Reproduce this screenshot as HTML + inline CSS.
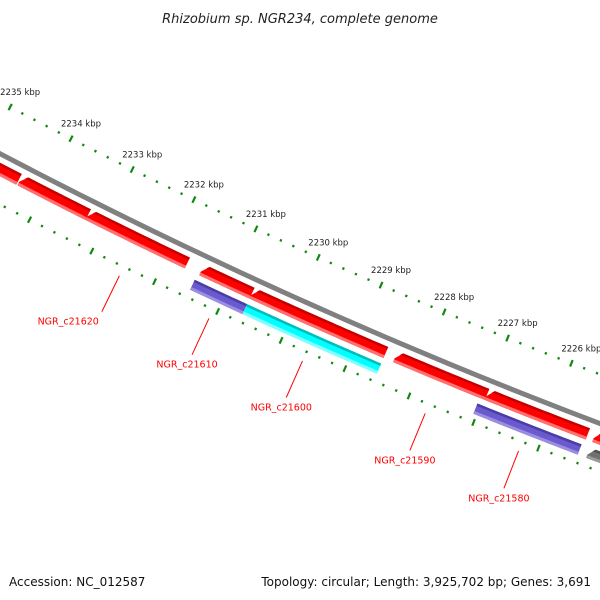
<!DOCTYPE html>
<html><head><meta charset="utf-8"><style>
html,body{margin:0;padding:0;background:#fff}
svg{display:block}
text{font-family:"DejaVu Sans","Liberation Sans",sans-serif}
</style></head><body>
<svg id="map" width="600" height="600" viewBox="0 0 600 600" xmlns="http://www.w3.org/2000/svg">
<rect width="600" height="600" fill="#fff"/>
<text x="300" y="23" text-anchor="middle" font-size="13" font-style="italic" fill="#222">Rhizobium sp. NGR234, complete genome</text>
<g id="ticks"></g>
<g id="backbone"></g>
<g id="genes"></g>
<g id="labels"></g>
<text x="9" y="586" font-size="12" fill="#111">Accession: NC_012587</text>
<text x="591" y="586" font-size="12" text-anchor="end" fill="#111">Topology: circular; Length: 3,925,702 bp; Genes: 3,691</text>
</svg>
<script>
// data (kbp)
const geneStarts = [2236.5, 2234.38, 2233.28, 2231.46, 2230.66, 2228.40, 2226.97, 2225.31, 2231.49, 2230.66, 2228.55, 2227.05, 2225.31];
const geneEnds   = [2234.40, 2233.28, 2231.69, 2230.66, 2228.55, 2226.97, 2225.41, 2224.0, 2230.66, 2228.55, 2227.05, 2225.44, 2224.0];
const geneRows   = [0,0,0,0,0,0,0,0,1,1,1,1,1];
const geneKinds  = ['red','red','red','red','red','red','red','red','purple','cyan','none','purple','grey'];
const labelNames = ['NGR_c21620','NGR_c21610','NGR_c21600','NGR_c21590','NGR_c21580'];
const labelKbp   = [2232.49, 2231.07, 2229.6, 2227.69, 2226.25];
const tickMin = 2223, tickMax = 2237;

const NS = 'http://www.w3.org/2000/svg';
const cx = 2511, cy = -4627, R = 5400;
function ang(kbp){ return 111.24 + (kbp - 2226) * 0.734; }
function pt(r, deg){ const t = deg * Math.PI / 180; return [cx + r * Math.cos(t), cy + r * Math.sin(t)]; }
function arcPts(r, a1, a2, n){ const p=[]; for(let i=0;i<=n;i++){ p.push(pt(r, a1 + (a2-a1)*i/n)); } return p; }
function poly(pts){ return pts.map(p=>p[0].toFixed(2)+','+p[1].toFixed(2)).join(' '); }
function mk(tag, attrs, parent){ const e=document.createElementNS(NS,tag); for(const k in attrs) e.setAttribute(k,attrs[k]); parent.appendChild(e); return e; }

// backbone
const bb = document.getElementById('backbone');
const bbl = mk('polyline', {points: poly(arcPts(R, ang(2237), ang(2223), 60)), fill:'none', stroke:'#808080', 'stroke-width':5}, bb);



// ticks
const tg = document.getElementById('ticks');
const rings = [5354, 5445];
for (let k = tickMin*5; k <= tickMax*5; k++) {
  const kbp = k / 5;
  const major = (k % 5 === 0);
  const a = ang(kbp);
  rings.forEach((rr, ri) => {
    const h = major ? 3.5 : 1.2;
    const p1 = pt(rr - h, a), p2 = pt(rr + h, a);
    const l = mk('line', {x1:p1[0], y1:p1[1], x2:p2[0], y2:p2[1], stroke:'#118811', 'stroke-width':2.2}, tg);
    
    
  });
  if (major) {
    const p = pt(5354, a);
    const t = mk('text', {x:p[0]+10, y:p[1]-12, 'text-anchor':'middle', 'font-size':8.5, fill:'#222'}, tg);
    t.textContent = kbp + ' kbp';
    
    
  }
}

// genes
const gg = document.getElementById('genes');
const colors = {
  red:['#ff0000','#c40000','#ff7070'],
  purple:['#6a5acd','#4a3da8','#9a8ee0'],
  cyan:['#00ffff','#00bcbc','#80ffff'],
  grey:['#707070','#505050','#9a9a9a']
};
const rowR = [[5408,5420],[5426,5437]];
geneStarts.forEach((s, i) => {
  const kind = geneKinds[i];
  if (kind === 'none') return;
  const e = geneEnds[i];
  const [r1, r2] = rowR[geneRows[i]];
  const a1 = ang(s), a2 = ang(e);
  const tipA = 6 / R * 180 / Math.PI;
  const c = colors[kind];
  const g = mk('g', {}, gg);
  
  
  const arrow = kind === 'red' || kind === 'grey';
  const body = arcPts(r1, a1 - (arrow ? tipA : 0), a2, 30)
    .concat(arcPts(r2, a2, a1, 30));
  if (arrow) body.push(pt(r2, a1 - 0.0001), pt((r1+r2)/2 + 2, a1 + tipA*0.02));
  mk('polygon', {points: poly(body), fill: c[0]}, g);
  mk('polygon', {points: poly(arcPts(r1, a1 - (arrow?tipA:0), a2, 30).concat(arcPts(r1+2.5, a2, a1 - (arrow?tipA*0.6:0), 30))), fill: c[1]}, g);
  mk('polygon', {points: poly(arcPts(r2-3, a1, a2, 30).concat(arcPts(r2, a2, a1, 30))), fill: c[2]}, g);
});

// gene labels
const lg = document.getElementById('labels');
labelNames.forEach((name, i) => {
  const a = ang(labelKbp[i]);
  const p1 = pt(5455, a), p2 = pt(5495, a);
  const l = mk('line', {x1:p1[0], y1:p1[1], x2:p2[0], y2:p2[1], stroke:'#ff0000', 'stroke-width':1}, lg);
  
  
  const first = i === 0;
  const t = mk('text', {x: first ? p2[0]-3 : p2[0]-5, y: p2[1]+13, 'text-anchor': first ? 'end' : 'middle', 'font-size':9.5, fill:'#ff0000'}, lg);
  t.textContent = name;
  
  
});
</script>
</body></html>
